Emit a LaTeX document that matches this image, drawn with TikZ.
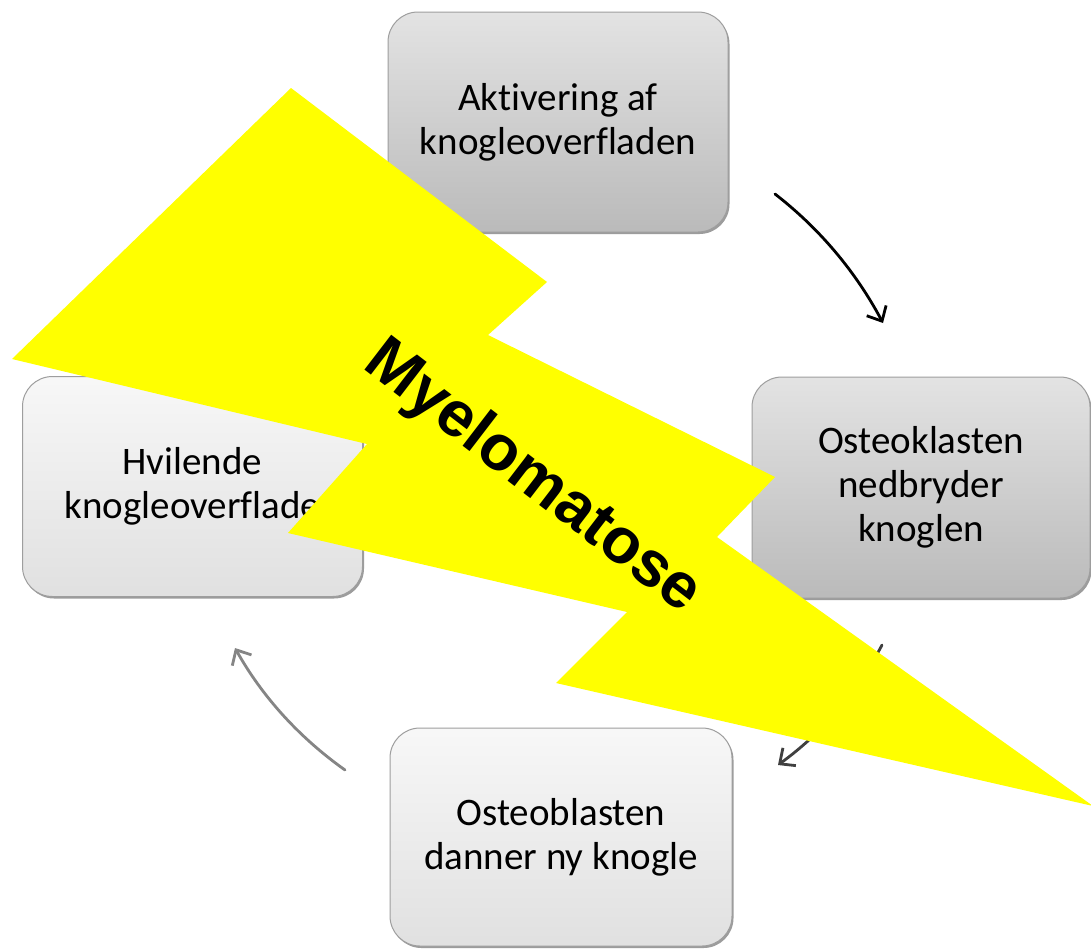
\documentclass[tikz,border=0pt]{standalone}
\usepackage{fontspec}
\setmainfont[Ligatures=NoCommon]{Carlito}
\newfontfamily\boltfont{Liberation Sans}
\usetikzlibrary{arrows.meta,shadows}
\definecolor{boltyellow}{HTML}{FFFF00}
\definecolor{arcmid}{HTML}{404040}
\definecolor{arclight}{HTML}{858585}
\begin{document}
\begin{tikzpicture}[x=1pt,y=-1pt,
  boxbase/.style={rounded corners=30pt, draw=black!38, line width=1pt,
    align=center, text=black, font=\fontsize{39}{44}\selectfont,
    drop shadow={shadow xshift=1.5pt,shadow yshift=-2pt,fill=black!70,opacity=0.55}},
  darkbox/.style={boxbase, top color=black!11, bottom color=black!27},
  lightbox/.style={boxbase, top color=black!3, bottom color=black!12},
  arc/.style={line width=2.8pt, line cap=round,
    -{Straight Barb[length=12pt,width=22pt,line width=2.8pt]}},
]
\useasboundingbox (0,0) rectangle (1091,948);
\fill[white] (0,0) rectangle (1091,948);

% boxes
\node[darkbox, minimum width=340pt, minimum height=220pt] (akt) at (558,122)
  {Aktivering af\\knogleoverfladen};
\node[darkbox, minimum width=338pt, minimum height=221pt] (ost) at (921,487.5)
  {Osteoklasten\\nedbryder\\knoglen};
\node[lightbox, minimum width=340pt, minimum height=220pt] (hvi) at (192.5,486.5)
  {Hvilende\\knogleoverflade};
\node[lightbox, minimum width=342pt, minimum height=218pt] (obl) at (561,837)
  {Osteoblasten\\danner ny knogle};

% connector end points
\coordinate (a1s) at (775,194);
\coordinate (a1e) at (883,323);
\coordinate (a2s) at (882,645);
\coordinate (a2e) at (778,765);
\coordinate (a3s) at (345,770);
\coordinate (a3e) at (235,648);

\draw[arc, black] (a1s) .. controls (819.7,228.7) and (855.7,271.7) .. (a1e);
\draw[arc, arcmid] (a2s) .. controls (856.7,693) and (822,733) .. (a2e);
\draw[arc, arclight] (a3s) .. controls (299,737.3) and (262.3,696.7) .. (a3e);

% lightning bolt
\fill[boltyellow] (291,88) -- (547,282) -- (488,335) -- (775,477) -- (717,537)
  -- (1093,806) -- (556,683) -- (627,612) -- (288,533) -- (367,444)
  -- (12,359) -- cycle;

\node[rotate=-37.5, font=\boltfont\bfseries\fontsize{64}{64}\selectfont, text=black]
  (myelo) at (532,478) {Myelomatose};
\end{tikzpicture}
\end{document}
